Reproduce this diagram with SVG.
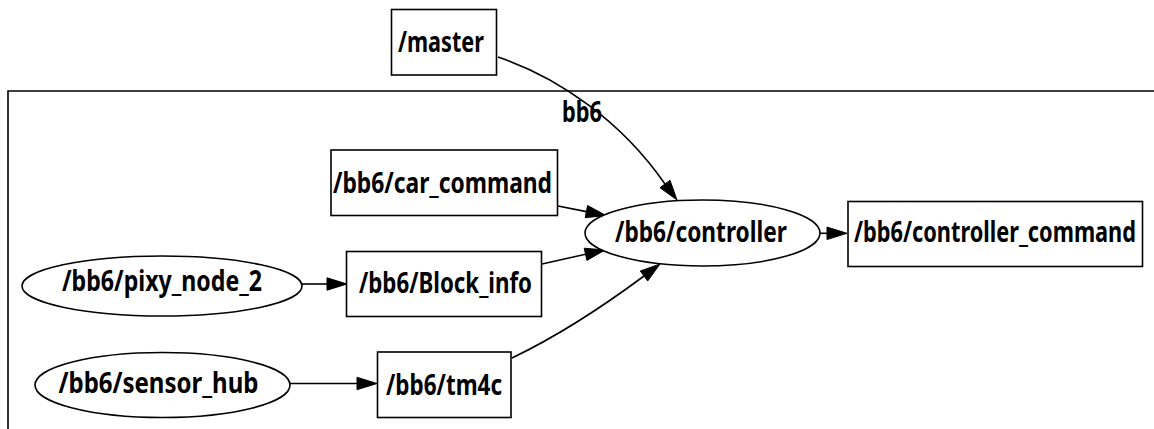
<svg xmlns="http://www.w3.org/2000/svg" width="1154" height="429" viewBox="0 0 1154 429">
  <style>
    .shape { fill: #ffffff; stroke: #000000; stroke-width: 1.6; }
    .cluster { fill: none; stroke: #000000; stroke-width: 1.6; }
    .edge { fill: none; stroke: #000000; stroke-width: 1.6; }
    .head { fill: #000000; stroke: #000000; stroke-width: 1; }
    text { font-family: "Noto Sans", "Open Sans", sans-serif; font-size: 29px; font-weight: 700; fill: #000000; }
  </style>
  <rect width="1154" height="429" fill="#ffffff"/>

  <!-- cluster bb6 -->
  <g id="cluster_bb6">
    <path class="cluster" d="M8,432 L8,91 L1160,91"/>
    <text x="582" y="122" text-anchor="middle" textLength="40" lengthAdjust="spacingAndGlyphs">bb6</text>
  </g>

  <!-- connectors -->
  <g id="edges">
    <!-- /master -> /bb6/controller -->
    <path class="edge" d="M498,57 C560,78 622,122 665,184"/>
    <polygon class="head" points="677,200 660,187.7 670,180.3"/>
    <!-- /bb6/car_command -> /bb6/controller -->
    <path class="edge" d="M558,206 L586.4,211.6"/>
    <polygon class="head" points="606,215.5 585.2,217.7 587.6,205.5"/>
    <!-- /bb6/Block_info -> /bb6/controller -->
    <path class="edge" d="M542,264 L585.5,254.3"/>
    <polygon class="head" points="605,250 586.9,260.4 584.2,248.2"/>
    <!-- /bb6/tm4c -> /bb6/controller -->
    <path class="edge" d="M512,358 C562,334 605,305 644,276"/>
    <polygon class="head" points="660,264 647.7,281 640.3,271"/>
    <!-- /bb6/pixy_node_2 -> /bb6/Block_info -->
    <path class="edge" d="M302,284 L327,284"/>
    <polygon class="head" points="347,284 327,277.8 327,290.2"/>
    <!-- /bb6/sensor_hub -> /bb6/tm4c -->
    <path class="edge" d="M290,383.5 L357,383.5"/>
    <polygon class="head" points="377,383.5 357,377.3 357,389.7"/>
    <!-- /bb6/controller -> /bb6/controller_command -->
    <path class="edge" d="M820,233.3 L827,233.3"/>
    <polygon class="head" points="847,233.3 827,227.1 827,239.5"/>
  </g>

  <!-- nodes -->
  <g id="master">
    <rect class="shape" x="391.5" y="9.5" width="105" height="65.5"/>
    <text x="441" y="52" text-anchor="middle" textLength="86" lengthAdjust="spacingAndGlyphs">/master</text>
  </g>
  <g id="car_command">
    <rect class="shape" x="331" y="150" width="226.5" height="65.5"/>
    <text x="442.5" y="193" text-anchor="middle" textLength="219" lengthAdjust="spacingAndGlyphs">/bb6/car_command</text>
  </g>
  <g id="controller">
    <ellipse class="shape" cx="702.5" cy="233" rx="117.5" ry="33"/>
    <text x="701" y="242" text-anchor="middle" textLength="172" lengthAdjust="spacingAndGlyphs">/bb6/controller</text>
  </g>
  <g id="controller_command">
    <rect class="shape" x="848" y="201.5" width="294.5" height="65"/>
    <text x="995" y="242" text-anchor="middle" textLength="282" lengthAdjust="spacingAndGlyphs">/bb6/controller_command</text>
  </g>
  <g id="pixy_node_2">
    <ellipse class="shape" cx="162" cy="286" rx="140" ry="30"/>
    <text x="162" y="291" text-anchor="middle" textLength="200" lengthAdjust="spacingAndGlyphs">/bb6/pixy_node_2</text>
  </g>
  <g id="Block_info">
    <rect class="shape" x="346.5" y="251.5" width="195" height="65"/>
    <text x="445.5" y="293" text-anchor="middle" textLength="173" lengthAdjust="spacingAndGlyphs">/bb6/Block_info</text>
  </g>
  <g id="sensor_hub">
    <ellipse class="shape" cx="162.5" cy="385" rx="127.5" ry="32.5"/>
    <text x="158.5" y="393" text-anchor="middle" textLength="200" lengthAdjust="spacingAndGlyphs">/bb6/sensor_hub</text>
  </g>
  <g id="tm4c">
    <rect class="shape" x="377.5" y="352" width="133.5" height="65.5"/>
    <text x="444" y="395" text-anchor="middle" textLength="116" lengthAdjust="spacingAndGlyphs">/bb6/tm4c</text>
  </g>
</svg>
